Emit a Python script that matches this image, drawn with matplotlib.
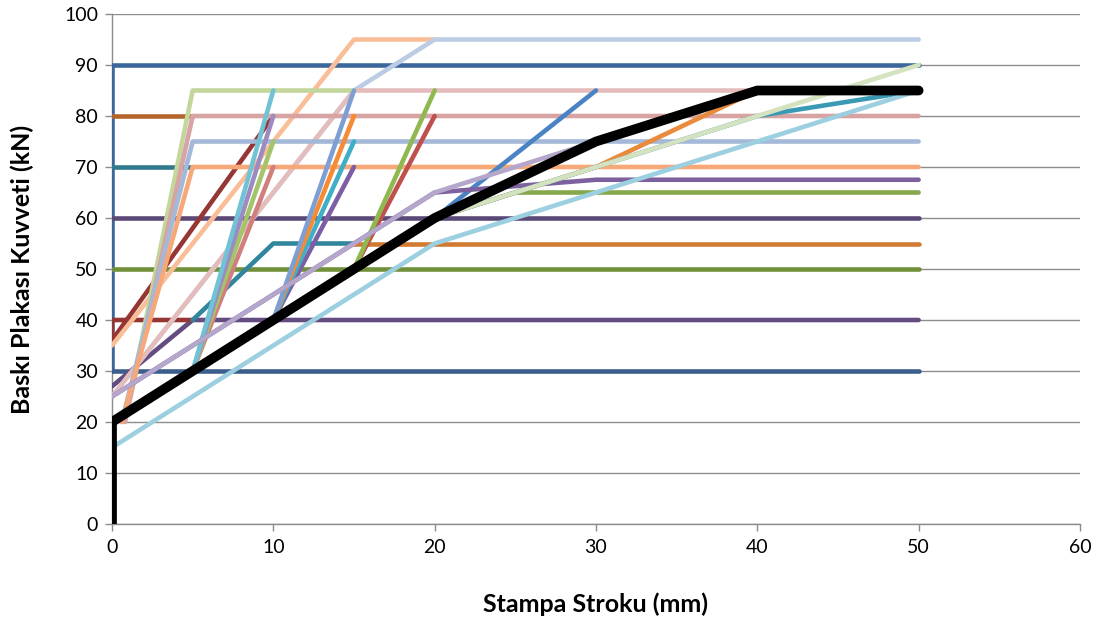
import matplotlib
matplotlib.use("Agg")
import matplotlib.pyplot as plt

# Press force profiles: stroke (mm) vs. blank holder force (kN)
# Each series is (stroke points, force points)
s_h90 = ([0, 0, 50], [30, 90, 90])
s_h30 = ([0, 50], [30, 30])
s_h80 = ([0, 5], [80, 80])
s_h70 = ([0, 5], [70, 70])
s_h60 = ([0, 50], [60, 60])
s_h50 = ([0, 50], [50, 50])
s_p40 = ([0, 5, 50], [27, 40, 40])
s_r40 = ([5, 0, 0, 10], [40, 40, 36, 80])
s_t55 = ([5, 10, 15], [40, 55, 55])
s_o55 = ([15, 50], [55, 55])
s_peach = ([0, 15, 20], [35, 95, 95])
s_steel95 = ([0, 15, 20, 50], [25, 85, 95, 95])
s_pink85 = ([0, 15, 50], [25, 85, 85])
s_g85 = ([0.8, 5, 15], [20, 85, 85])
s_rose80 = ([0.8, 5, 50], [20, 80, 80])
s_steel75 = ([0.6, 5, 50], [20, 75, 75])
s_or70 = ([0.6, 5, 50], [20, 70, 70])
s_b2_rose = ([5, 10], [30, 70])
s_b2_green = ([5, 10], [30, 75])
s_b2_lav = ([5, 10], [30, 80])
s_b2_aqua = ([5, 10], [30, 85])
s_b3_purple = ([10, 15], [40, 70])
s_b3_aqua = ([10, 15], [40, 75])
s_b3_orange = ([10, 15], [40, 80])
s_b3_blue = ([10, 15], [40, 85])
s_b4_red = ([15, 20], [50, 80])
s_b4_green = ([15, 20], [50, 85])
s_b5_blue = ([20, 30], [60, 85])
s_purple67 = ([0, 20, 30, 50], [25, 65, 67.5, 67.5])
s_green65 = ([20, 25, 50], [60, 65, 65])
s_lavender = ([0, 20, 30, 40, 50], [25, 65, 75, 85, 85])
s_orange85 = ([20, 30, 40, 50], [60, 70, 85, 85])
s_teal85 = ([20, 40, 50], [60, 80, 85])
s_pale90 = ([20, 50], [60, 90])
s_lightblue = ([0, 20, 50], [15, 55, 85])
s_main = ([0, 0, 10, 20, 30, 40, 50], [0, 20, 40, 60, 75, 85, 85])

series = [
    (s_h90, "#3C679C"), (s_h30, "#3B5E8C"), (s_h80, "#B5652B"),
    (s_h70, "#31798C"), (s_h60, "#5A4876"), (s_h50, "#71903A"),
    (s_p40, "#634C80"), (s_r40, "#963634"), (s_t55, "#31869E"),
    (s_o55, "#D07A32"), (s_peach, "#F9BE98"), (s_steel95, "#BCCCE4"),
    (s_pink85, "#E5BCBC"), (s_g85, "#C3D69B"), (s_rose80, "#D8A3A3"),
    (s_steel75, "#A4B8D8"), (s_or70, "#F7A878"),
    (s_b2_rose, "#D07F7D"), (s_b2_green, "#A4C46A"),
    (s_b2_lav, "#9B8BC0"), (s_b2_aqua, "#72C2D6"),
    (s_b3_purple, "#7B5EA4"), (s_b3_aqua, "#3FAFC7"),
    (s_b3_orange, "#F68B35"), (s_b3_blue, "#7D9FD3"),
    (s_b4_red, "#C0504D"), (s_b4_green, "#8FB84F"),
    (s_b5_blue, "#4A83C4"), (s_purple67, "#7D619F"),
    (s_green65, "#86A84A"), (s_lavender, "#B5A6CC"),
    (s_orange85, "#E98A3C"), (s_teal85, "#3A9AB4"),
    (s_pale90, "#D4E2C0"), (s_lightblue, "#9CCFDF"),
]

x_ticks = [0, 10, 20, 30, 40, 50, 60]
y_ticks = [0, 10, 20, 30, 40, 50, 60, 70, 80, 90, 100]
x_label = "Stampa Stroku (mm)"
y_label = "Baskı Plakası Kuvveti (kN)"

plt.rcParams["font.family"] = ["Lato", "DejaVu Sans"]

fig = plt.figure(figsize=(11.09, 6.28), dpi=100)
ax = fig.add_axes([0.101, 0.1656, 0.8728, 0.8121])

for (xs, ys), col in series:
    ax.plot(xs, ys, color=col, lw=3.3, solid_capstyle="round",
            solid_joinstyle="round", zorder=3)

ax.plot(s_main[0], s_main[1], color="black", lw=7.0,
        solid_capstyle="round", solid_joinstyle="round", zorder=4)

ax.set_xlim(0, 60)
ax.set_ylim(0, 100)
ax.set_xticks(x_ticks)
ax.set_yticks(y_ticks)
ax.yaxis.grid(True, color="#8C8C8C", lw=1.0)
ax.set_axisbelow(True)
for side in ("top", "right"):
    ax.spines[side].set_visible(False)
for side in ("left", "bottom"):
    ax.spines[side].set_color("#8C8C8C")
    ax.spines[side].set_linewidth(1.0)
ax.tick_params(axis="both", colors="#8C8C8C", labelcolor="#000000",
               labelsize=14, length=5, width=1.0, direction="out")
ax.tick_params(axis="x", pad=6)
ax.tick_params(axis="y", pad=5)

ax.set_xlabel(x_label, fontsize=18, fontweight="bold", labelpad=26)
ax.set_ylabel(y_label, fontsize=18, fontweight="bold", labelpad=22)

fig.savefig("out.png", dpi=100)
